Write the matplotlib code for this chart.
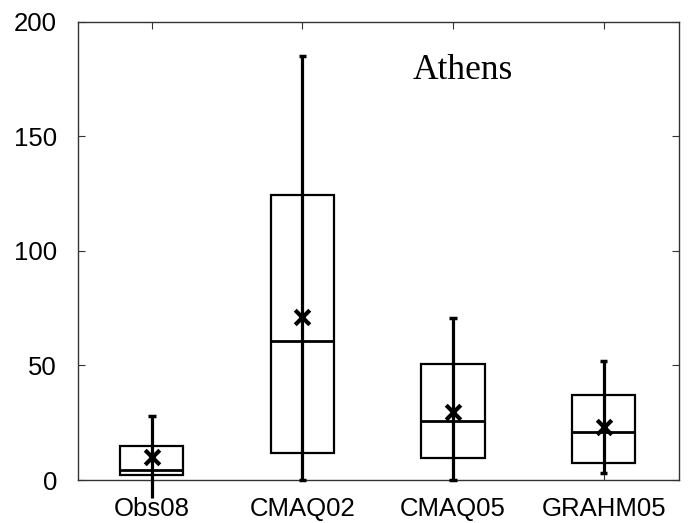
import numpy as np
import matplotlib.pyplot as plt

labels = ['Obs08', 'CMAQ02', 'CMAQ05', 'GRAHM05']
whis_lo = [-8, 0, 0, 3]
q1 = [2, 12, 9.5, 7.5]
med = [4.5, 60.5, 25.7, 21]
q3 = [14.8, 124.5, 50.5, 37.3]
whis_hi = [28, 185, 70.5, 52]
means = [10, 71, 29.8, 23.2]

pos = np.arange(1, len(labels) + 1)
bw = 0.42
cw = 0.05

fig = plt.figure(figsize=(6.89, 5.23), dpi=100)
ax = fig.add_axes([0.1132, 0.0822, 0.8723, 0.8763])

# boxes
ax.bar(pos, np.array(q3) - np.array(q1), bottom=q1, width=bw,
       fill=False, edgecolor='black', linewidth=1.6, zorder=2)
# medians
ax.hlines(med, pos - bw / 2, pos + bw / 2, color='black', linewidth=2, zorder=3)
# whiskers through the box
for x, lo, hi in zip(pos, whis_lo, whis_hi):
    ax.plot([x, x], [lo, hi], color='black', linewidth=2.3, zorder=4,
            clip_on=False, solid_capstyle='butt')
    ax.plot([x - cw / 2, x + cw / 2], [hi, hi], color='black', linewidth=2.5,
            zorder=4, solid_capstyle='butt')
    if lo >= 0:
        ax.plot([x - cw / 2, x + cw / 2], [lo, lo], color='black',
                linewidth=2.5, zorder=4, clip_on=False, solid_capstyle='butt')
# means
ax.scatter(pos, means, marker='x', s=110, color='black', linewidths=3, zorder=5)

ax.set_xlim(0.51, 4.5)
ax.set_ylim(0, 200)
ax.set_yticks([0, 50, 100, 150, 200])
ax.set_xticks(pos)
ax.set_xticklabels(labels)
ax.tick_params(direction='in', length=5, width=0.8, color='#333333',
               top=True, right=True, labelsize=18.5)
ax.tick_params(axis='x', pad=12.5)
ax.tick_params(axis='y', pad=15)
for lab in ax.get_xticklabels() + ax.get_yticklabels():
    lab.set_family('Liberation Sans')
for s in ax.spines.values():
    s.set_color('#333333')
    s.set_linewidth(1.0)

ax.text(0.556, 0.93, 'Athens', transform=ax.transAxes, fontsize=25.5,
        family='Liberation Serif', va='top', ha='left')

fig.savefig('out.png', dpi=100)
